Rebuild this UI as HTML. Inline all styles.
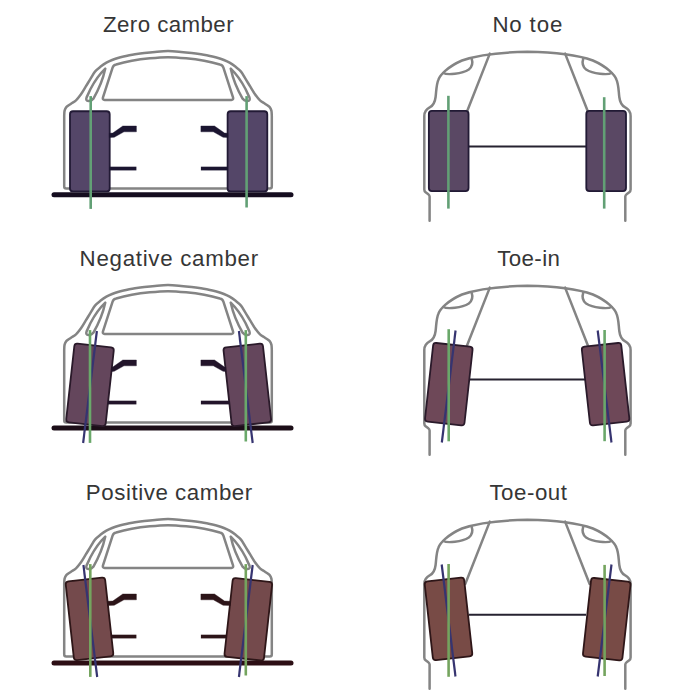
<!DOCTYPE html>
<html><head><meta charset="utf-8"><style>
html,body{margin:0;padding:0;background:#fff;}
svg{display:block;}
text{font-family:"Liberation Sans",sans-serif;}
</style></head><body>
<svg width="700" height="700" viewBox="0 0 700 700">
<rect width="700" height="700" fill="#fff"/>
<text x="103" y="31.6" font-size="22.3" letter-spacing="0.42" fill="#363636">Zero camber</text>
<text x="492.4" y="32.3" font-size="22.3" letter-spacing="0.84" fill="#363636">No toe</text>
<path d="M66.2,188.6 Q64.2,188.6 64.2,186.6 L64.2,116 C64.27,115.1 64.22,112.12 64.6,110.6 C64.98,109.08 65.43,108.05 66.5,106.9 C67.57,105.75 69.42,104.8 71,103.7 C72.58,102.6 74.33,101.87 76,100.3 C77.67,98.73 79.33,96.65 81,94.3 C82.67,91.95 84.4,88.82 86,86.2 C87.6,83.58 89.1,81.03 90.6,78.6 C92.1,76.17 93.32,73.6 95,71.6 C96.68,69.6 98.8,68.08 100.7,66.6 C102.6,65.12 104.5,63.8 106.4,62.7 C108.3,61.6 110.18,60.78 112.1,60 C114.02,59.22 115.98,58.58 117.9,58 C119.82,57.42 121.7,56.95 123.6,56.5 C125.5,56.05 127.4,55.67 129.3,55.3 C131.2,54.93 132.5,54.68 135,54.3 C137.5,53.92 140.97,53.4 144.3,53 C147.63,52.6 151.05,52.22 155,51.9 C158.95,51.58 163.67,51.1 168,51.1 C172.33,51.1 177.05,51.58 181,51.9 C184.95,52.22 188.37,52.6 191.7,53 C195.03,53.4 198.5,53.92 201,54.3 C203.5,54.68 204.8,54.93 206.7,55.3 C208.6,55.67 210.5,56.05 212.4,56.5 C214.3,56.95 216.18,57.42 218.1,58 C220.02,58.58 221.98,59.22 223.9,60 C225.82,60.78 227.7,61.6 229.6,62.7 C231.5,63.8 233.4,65.12 235.3,66.6 C237.2,68.08 239.32,69.6 241,71.6 C242.68,73.6 243.9,76.17 245.4,78.6 C246.9,81.03 248.4,83.58 250,86.2 C251.6,88.82 253.33,91.95 255,94.3 C256.67,96.65 258.33,98.73 260,100.3 C261.67,101.87 263.42,102.6 265,103.7 C266.58,104.8 268.43,105.75 269.5,106.9 C270.57,108.05 271.02,109.08 271.4,110.6 C271.78,112.12 271.73,115.1 271.8,116 L271.8,186.6 Q271.8,188.6 269.8,188.6 Z" fill="#fff" stroke="#848484" stroke-width="2.5" stroke-linejoin="round"/>
<path d="M104.6,99.9 Q102.4,99.9 102.9,97.7 L112.6,67.6 Q113.4,65 116.2,64.5 C139,57.75 166,57.2 168,57.2 C170,57.2 197,57.75 219.8,64.5 Q222.6,65 223.4,67.6 L233.1,97.7 Q233.6,99.9 231.4,99.9 Z" fill="none" stroke="#848484" stroke-width="2.5" stroke-linejoin="round"/>
<path d="M105.3,68.6 Q97,76.5 90.5,89 L86.6,97.4 Q85.4,100.8 88.4,100.9 Q91.8,101 93.3,98.8 Q102,84 105.3,68.6 Z" fill="none" stroke="#848484" stroke-width="2.5" stroke-linejoin="round"/>
<path d="M230.7,68.6 Q239,76.5 245.5,89 L249.4,97.4 Q250.6,100.8 247.6,100.9 Q244.2,101 242.7,98.8 Q234,84 230.7,68.6 Z" fill="none" stroke="#848484" stroke-width="2.5" stroke-linejoin="round"/>
<line x1="54" y1="194.85" x2="291" y2="194.85" stroke="#150d1f" stroke-width="5" stroke-linecap="round"/>
<rect x="70" y="111.25" width="39.7" height="80.2" rx="3" fill="#544668" stroke="#221a35" stroke-width="1.8" transform="rotate(0 89.85 151.35)"/>
<rect x="227.6" y="111.25" width="39.7" height="80.2" rx="3" fill="#544668" stroke="#221a35" stroke-width="1.8" transform="rotate(0 247.45 151.35)"/>
<polygon points="109.35,133.3 112.8,133 122.8,126 136.4,126 136.4,131.8 124,131.8 114.2,137.3 109.35,137.5" fill="#1b1530" stroke="#1b1530" stroke-width="0.4" stroke-linejoin="round"/>
<rect x="109.35" y="166.7" width="27.05" height="3.7" fill="#1b1530"/>
<polygon points="227.95,133.3 224.5,133 214.5,126 200.9,126 200.9,131.8 213.3,131.8 223.1,137.3 227.95,137.5" fill="#1b1530" stroke="#1b1530" stroke-width="0.4" stroke-linejoin="round"/>
<rect x="200.9" y="166.7" width="27.05" height="3.7" fill="#1b1530"/>
<line x1="90.7" y1="96.1" x2="90.7" y2="208.9" stroke="#62a075" stroke-width="2.6"/>
<line x1="246.6" y1="96.1" x2="246.6" y2="207.5" stroke="#62a075" stroke-width="2.6"/>
<path d="M429.6,220.7 L429.6,196.5 Q429.6,195.2 428,194 L425.6,192.2 Q424.3,191.2 424.3,189.5 L424.3,116 C424.3,111 427,108.8 430,107.2 C433.5,105.2 435,102 435.6,97 C436.4,90 436.4,84 438.5,79.5 C440,75.5 447,67 462,60.5 C476,55.5 498,52.2 527.45,51.8 C556.9,52.2 578.9,55.5 592.9,60.5 C607.9,67 614.9,75.5 616.4,79.5 C618.5,84 618.5,90 619.3,97 C619.9,102 621.4,105.2 624.9,107.2 C627.9,108.8 630.6,111 630.6,116 L630.6,189.5 Q630.6,191.2 629.3,192.2 L626.9,194 Q625.3,195.2 625.3,196.5 L625.3,220.7" fill="none" stroke="#848484" stroke-width="2.5" stroke-linecap="round" stroke-linejoin="round"/>
<path d="M443.4,73 C447,75.2 462,74 468.8,69.5 C472.6,66.5 472.6,61.5 471.6,58.4" fill="none" stroke="#848484" stroke-width="2.5" stroke-linecap="round"/>
<path d="M611.5,73 C607.9,75.2 592.9,74 586.1,69.5 C582.3,66.5 582.3,61.5 583.3,58.4" fill="none" stroke="#848484" stroke-width="2.5" stroke-linecap="round"/>
<path d="M489.8,53.6 L465.25,116" fill="none" stroke="#848484" stroke-width="2.5" stroke-linecap="round"/>
<path d="M565.1,53.6 L589.65,116" fill="none" stroke="#848484" stroke-width="2.5" stroke-linecap="round"/>
<line x1="469" y1="146.5" x2="586" y2="146.5" stroke="#262230" stroke-width="2"/>
<rect x="428.85" y="110.9" width="39.7" height="80.2" rx="3" fill="#5a4864" stroke="#221a35" stroke-width="1.8" transform="rotate(0 448.7 151)"/>
<rect x="586.3" y="110.9" width="39.7" height="80.2" rx="3" fill="#5a4864" stroke="#221a35" stroke-width="1.8" transform="rotate(0 606.15 151)"/>
<line x1="448.4" y1="95.8" x2="448.4" y2="208.6" stroke="#62a075" stroke-width="2.6"/>
<line x1="604.2" y1="97.2" x2="604.2" y2="208.6" stroke="#62a075" stroke-width="2.6"/>
<text x="79.6" y="265.9" font-size="22.3" letter-spacing="0.71" fill="#363636">Negative camber</text>
<text x="497.2" y="266" font-size="22.3" letter-spacing="0.4" fill="#363636">Toe-in</text>
<path d="M66.2,422.6 Q64.2,422.6 64.2,420.6 L64.2,350 C64.27,349.1 64.22,346.12 64.6,344.6 C64.98,343.08 65.43,342.05 66.5,340.9 C67.57,339.75 69.42,338.8 71,337.7 C72.58,336.6 74.33,335.87 76,334.3 C77.67,332.73 79.33,330.65 81,328.3 C82.67,325.95 84.4,322.82 86,320.2 C87.6,317.58 89.1,315.03 90.6,312.6 C92.1,310.17 93.32,307.6 95,305.6 C96.68,303.6 98.8,302.08 100.7,300.6 C102.6,299.12 104.5,297.8 106.4,296.7 C108.3,295.6 110.18,294.78 112.1,294 C114.02,293.22 115.98,292.58 117.9,292 C119.82,291.42 121.7,290.95 123.6,290.5 C125.5,290.05 127.4,289.67 129.3,289.3 C131.2,288.93 132.5,288.68 135,288.3 C137.5,287.92 140.97,287.4 144.3,287 C147.63,286.6 151.05,286.22 155,285.9 C158.95,285.58 163.67,285.1 168,285.1 C172.33,285.1 177.05,285.58 181,285.9 C184.95,286.22 188.37,286.6 191.7,287 C195.03,287.4 198.5,287.92 201,288.3 C203.5,288.68 204.8,288.93 206.7,289.3 C208.6,289.67 210.5,290.05 212.4,290.5 C214.3,290.95 216.18,291.42 218.1,292 C220.02,292.58 221.98,293.22 223.9,294 C225.82,294.78 227.7,295.6 229.6,296.7 C231.5,297.8 233.4,299.12 235.3,300.6 C237.2,302.08 239.32,303.6 241,305.6 C242.68,307.6 243.9,310.17 245.4,312.6 C246.9,315.03 248.4,317.58 250,320.2 C251.6,322.82 253.33,325.95 255,328.3 C256.67,330.65 258.33,332.73 260,334.3 C261.67,335.87 263.42,336.6 265,337.7 C266.58,338.8 268.43,339.75 269.5,340.9 C270.57,342.05 271.02,343.08 271.4,344.6 C271.78,346.12 271.73,349.1 271.8,350 L271.8,420.6 Q271.8,422.6 269.8,422.6 Z" fill="#fff" stroke="#848484" stroke-width="2.5" stroke-linejoin="round"/>
<path d="M104.6,333.9 Q102.4,333.9 102.9,331.7 L112.6,301.6 Q113.4,299 116.2,298.5 C139,291.75 166,291.2 168,291.2 C170,291.2 197,291.75 219.8,298.5 Q222.6,299 223.4,301.6 L233.1,331.7 Q233.6,333.9 231.4,333.9 Z" fill="none" stroke="#848484" stroke-width="2.5" stroke-linejoin="round"/>
<path d="M105.3,302.6 Q97,310.5 90.5,323 L86.6,331.4 Q85.4,334.8 88.4,334.9 Q91.8,335 93.3,332.8 Q102,318 105.3,302.6 Z" fill="none" stroke="#848484" stroke-width="2.5" stroke-linejoin="round"/>
<path d="M230.7,302.6 Q239,310.5 245.5,323 L249.4,331.4 Q250.6,334.8 247.6,334.9 Q244.2,335 242.7,332.8 Q234,318 230.7,302.6 Z" fill="none" stroke="#848484" stroke-width="2.5" stroke-linejoin="round"/>
<line x1="54" y1="428.1" x2="291" y2="428.1" stroke="#1c0e18" stroke-width="5" stroke-linecap="round"/>
<rect x="70.15" y="345.3" width="39.7" height="79.2" rx="3" fill="#64465c" stroke="#2a1a2a" stroke-width="1.8" transform="rotate(6.3 90 384.9)"/>
<rect x="227.45" y="345.3" width="39.7" height="79.2" rx="3" fill="#64465c" stroke="#2a1a2a" stroke-width="1.8" transform="rotate(-6.3 247.3 384.9)"/>
<polygon points="111.63,367.3 112.8,367 122.8,360 136.4,360 136.4,365.8 124,365.8 114.2,371.3 111.63,371.5" fill="#22142a" stroke="#22142a" stroke-width="0.4" stroke-linejoin="round"/>
<rect x="107.93" y="400.7" width="28.47" height="3.7" fill="#22142a"/>
<polygon points="225.67,367.3 224.5,367 214.5,360 200.9,360 200.9,365.8 213.3,365.8 223.1,371.3 225.67,371.5" fill="#22142a" stroke="#22142a" stroke-width="0.4" stroke-linejoin="round"/>
<rect x="200.9" y="400.7" width="28.47" height="3.7" fill="#22142a"/>
<line x1="96.88" y1="331" x2="83.12" y2="443" stroke="#363470" stroke-width="2.2"/>
<line x1="90" y1="330.1" x2="90" y2="442.9" stroke="#6aa86a" stroke-width="2.6"/>
<line x1="238.92" y1="331" x2="252.68" y2="443" stroke="#363470" stroke-width="2.2"/>
<line x1="245.8" y1="330.1" x2="245.8" y2="441.5" stroke="#6aa86a" stroke-width="2.6"/>
<path d="M429.6,454.7 L429.6,430.5 Q429.6,429.2 428,428 L425.6,426.2 Q424.3,425.2 424.3,423.5 L424.3,350 C424.3,345 427,342.8 430,341.2 C433.5,339.2 435,336 435.6,331 C436.4,324 436.4,318 438.5,313.5 C440,309.5 447,301 462,294.5 C476,289.5 498,286.2 527.45,285.8 C556.9,286.2 578.9,289.5 592.9,294.5 C607.9,301 614.9,309.5 616.4,313.5 C618.5,318 618.5,324 619.3,331 C619.9,336 621.4,339.2 624.9,341.2 C627.9,342.8 630.6,345 630.6,350 L630.6,423.5 Q630.6,425.2 629.3,426.2 L626.9,428 Q625.3,429.2 625.3,430.5 L625.3,454.7" fill="none" stroke="#848484" stroke-width="2.5" stroke-linecap="round" stroke-linejoin="round"/>
<path d="M443.4,307 C447,309.2 462,308 468.8,303.5 C472.6,300.5 472.6,295.5 471.6,292.4" fill="none" stroke="#848484" stroke-width="2.5" stroke-linecap="round"/>
<path d="M611.5,307 C607.9,309.2 592.9,308 586.1,303.5 C582.3,300.5 582.3,295.5 583.3,292.4" fill="none" stroke="#848484" stroke-width="2.5" stroke-linecap="round"/>
<path d="M489.8,287.6 L465.25,350" fill="none" stroke="#848484" stroke-width="2.5" stroke-linecap="round"/>
<path d="M565.1,287.6 L589.65,350" fill="none" stroke="#848484" stroke-width="2.5" stroke-linecap="round"/>
<line x1="469" y1="379.6" x2="586" y2="379.6" stroke="#262230" stroke-width="2"/>
<rect x="428.95" y="344.6" width="39.7" height="79.2" rx="3" fill="#6e4858" stroke="#2a1a2a" stroke-width="1.8" transform="rotate(6.3 448.8 384.2)"/>
<rect x="585.75" y="344.6" width="39.7" height="79.2" rx="3" fill="#6e4858" stroke="#2a1a2a" stroke-width="1.8" transform="rotate(-6.3 605.6 384.2)"/>
<line x1="455.58" y1="330.5" x2="441.82" y2="442.5" stroke="#363470" stroke-width="2.2"/>
<line x1="448.7" y1="329.2" x2="448.7" y2="441.3" stroke="#6aa86a" stroke-width="2.6"/>
<line x1="597.72" y1="330.5" x2="611.48" y2="442.5" stroke="#363470" stroke-width="2.2"/>
<line x1="604.6" y1="330" x2="604.6" y2="441.2" stroke="#6aa86a" stroke-width="2.6"/>
<text x="85.8" y="500.1" font-size="22.3" letter-spacing="0.56" fill="#363636">Positive camber</text>
<text x="489.4" y="500.4" font-size="22.3" letter-spacing="0.53" fill="#363636">Toe-out</text>
<path d="M66.2,656.6 Q64.2,656.6 64.2,654.6 L64.2,584 C64.27,583.1 64.22,580.12 64.6,578.6 C64.98,577.08 65.43,576.05 66.5,574.9 C67.57,573.75 69.42,572.8 71,571.7 C72.58,570.6 74.33,569.87 76,568.3 C77.67,566.73 79.33,564.65 81,562.3 C82.67,559.95 84.4,556.82 86,554.2 C87.6,551.58 89.1,549.03 90.6,546.6 C92.1,544.17 93.32,541.6 95,539.6 C96.68,537.6 98.8,536.08 100.7,534.6 C102.6,533.12 104.5,531.8 106.4,530.7 C108.3,529.6 110.18,528.78 112.1,528 C114.02,527.22 115.98,526.58 117.9,526 C119.82,525.42 121.7,524.95 123.6,524.5 C125.5,524.05 127.4,523.67 129.3,523.3 C131.2,522.93 132.5,522.68 135,522.3 C137.5,521.92 140.97,521.4 144.3,521 C147.63,520.6 151.05,520.22 155,519.9 C158.95,519.58 163.67,519.1 168,519.1 C172.33,519.1 177.05,519.58 181,519.9 C184.95,520.22 188.37,520.6 191.7,521 C195.03,521.4 198.5,521.92 201,522.3 C203.5,522.68 204.8,522.93 206.7,523.3 C208.6,523.67 210.5,524.05 212.4,524.5 C214.3,524.95 216.18,525.42 218.1,526 C220.02,526.58 221.98,527.22 223.9,528 C225.82,528.78 227.7,529.6 229.6,530.7 C231.5,531.8 233.4,533.12 235.3,534.6 C237.2,536.08 239.32,537.6 241,539.6 C242.68,541.6 243.9,544.17 245.4,546.6 C246.9,549.03 248.4,551.58 250,554.2 C251.6,556.82 253.33,559.95 255,562.3 C256.67,564.65 258.33,566.73 260,568.3 C261.67,569.87 263.42,570.6 265,571.7 C266.58,572.8 268.43,573.75 269.5,574.9 C270.57,576.05 271.02,577.08 271.4,578.6 C271.78,580.12 271.73,583.1 271.8,584 L271.8,654.6 Q271.8,656.6 269.8,656.6 Z" fill="#fff" stroke="#848484" stroke-width="2.5" stroke-linejoin="round"/>
<path d="M104.6,567.9 Q102.4,567.9 102.9,565.7 L112.6,535.6 Q113.4,533 116.2,532.5 C139,525.75 166,525.2 168,525.2 C170,525.2 197,525.75 219.8,532.5 Q222.6,533 223.4,535.6 L233.1,565.7 Q233.6,567.9 231.4,567.9 Z" fill="none" stroke="#848484" stroke-width="2.5" stroke-linejoin="round"/>
<path d="M105.3,536.6 Q97,544.5 90.5,557 L86.6,565.4 Q85.4,568.8 88.4,568.9 Q91.8,569 93.3,566.8 Q102,552 105.3,536.6 Z" fill="none" stroke="#848484" stroke-width="2.5" stroke-linejoin="round"/>
<path d="M230.7,536.6 Q239,544.5 245.5,557 L249.4,565.4 Q250.6,568.8 247.6,568.9 Q244.2,569 242.7,566.8 Q234,552 230.7,536.6 Z" fill="none" stroke="#848484" stroke-width="2.5" stroke-linejoin="round"/>
<line x1="54" y1="663" x2="291" y2="663" stroke="#2c0e14" stroke-width="5" stroke-linecap="round"/>
<rect x="69.65" y="579.3" width="39.7" height="79.2" rx="3" fill="#744a4c" stroke="#2e1618" stroke-width="1.8" transform="rotate(-6.3 89.5 618.9)"/>
<rect x="228.45" y="579.7" width="39.7" height="79.2" rx="3" fill="#744a4c" stroke="#2e1618" stroke-width="1.8" transform="rotate(6.3 248.3 619.3)"/>
<polygon points="107.62,601.3 112.8,601 122.8,594 136.4,594 136.4,599.8 124,599.8 114.2,605.3 107.62,605.5" fill="#2c1418" stroke="#2c1418" stroke-width="0.4" stroke-linejoin="round"/>
<rect x="111.32" y="634.7" width="25.08" height="3.7" fill="#2c1418"/>
<polygon points="230.22,601.3 224.5,601 214.5,594 200.9,594 200.9,599.8 213.3,599.8 223.1,605.3 230.22,605.5" fill="#2c1418" stroke="#2c1418" stroke-width="0.4" stroke-linejoin="round"/>
<rect x="200.9" y="634.7" width="25.63" height="3.7" fill="#2c1418"/>
<line x1="83.42" y1="565" x2="97.18" y2="677" stroke="#363470" stroke-width="2.2"/>
<line x1="90.3" y1="564.1" x2="90.3" y2="676.9" stroke="#74a45e" stroke-width="2.6"/>
<line x1="252.68" y1="565" x2="238.92" y2="677" stroke="#363470" stroke-width="2.2"/>
<line x1="245.8" y1="564.1" x2="245.8" y2="675.5" stroke="#74a45e" stroke-width="2.6"/>
<path d="M429.6,688.7 L429.6,664.5 Q429.6,663.2 428,662 L425.6,660.2 Q424.3,659.2 424.3,657.5 L424.3,584 C424.3,579 427,576.8 430,575.2 C433.5,573.2 435,570 435.6,565 C436.4,558 436.4,552 438.5,547.5 C440,543.5 447,535 462,528.5 C476,523.5 498,520.2 527.45,519.8 C556.9,520.2 578.9,523.5 592.9,528.5 C607.9,535 614.9,543.5 616.4,547.5 C618.5,552 618.5,558 619.3,565 C619.9,570 621.4,573.2 624.9,575.2 C627.9,576.8 630.6,579 630.6,584 L630.6,657.5 Q630.6,659.2 629.3,660.2 L626.9,662 Q625.3,663.2 625.3,664.5 L625.3,688.7" fill="none" stroke="#848484" stroke-width="2.5" stroke-linecap="round" stroke-linejoin="round"/>
<path d="M443.4,541 C447,543.2 462,542 468.8,537.5 C472.6,534.5 472.6,529.5 471.6,526.4" fill="none" stroke="#848484" stroke-width="2.5" stroke-linecap="round"/>
<path d="M611.5,541 C607.9,543.2 592.9,542 586.1,537.5 C582.3,534.5 582.3,529.5 583.3,526.4" fill="none" stroke="#848484" stroke-width="2.5" stroke-linecap="round"/>
<path d="M489.8,521.6 L465.25,584" fill="none" stroke="#848484" stroke-width="2.5" stroke-linecap="round"/>
<path d="M565.1,521.6 L589.65,584" fill="none" stroke="#848484" stroke-width="2.5" stroke-linecap="round"/>
<line x1="469" y1="614.7" x2="586" y2="614.7" stroke="#262230" stroke-width="2"/>
<rect x="428.65" y="579.3" width="39.7" height="79.2" rx="3" fill="#784b46" stroke="#2e1618" stroke-width="1.8" transform="rotate(-6.3 448.5 618.9)"/>
<rect x="586.9" y="579.6" width="39.7" height="79.2" rx="3" fill="#784b46" stroke="#2e1618" stroke-width="1.8" transform="rotate(6.3 606.75 619.2)"/>
<line x1="441.72" y1="564.5" x2="455.48" y2="676.5" stroke="#363470" stroke-width="2.2"/>
<line x1="448.6" y1="564" x2="448.6" y2="676.8" stroke="#74a45e" stroke-width="2.6"/>
<line x1="611.48" y1="564.5" x2="597.72" y2="676.5" stroke="#363470" stroke-width="2.2"/>
<line x1="604.6" y1="564.9" x2="604.6" y2="676" stroke="#74a45e" stroke-width="2.6"/>
</svg>
</body></html>
